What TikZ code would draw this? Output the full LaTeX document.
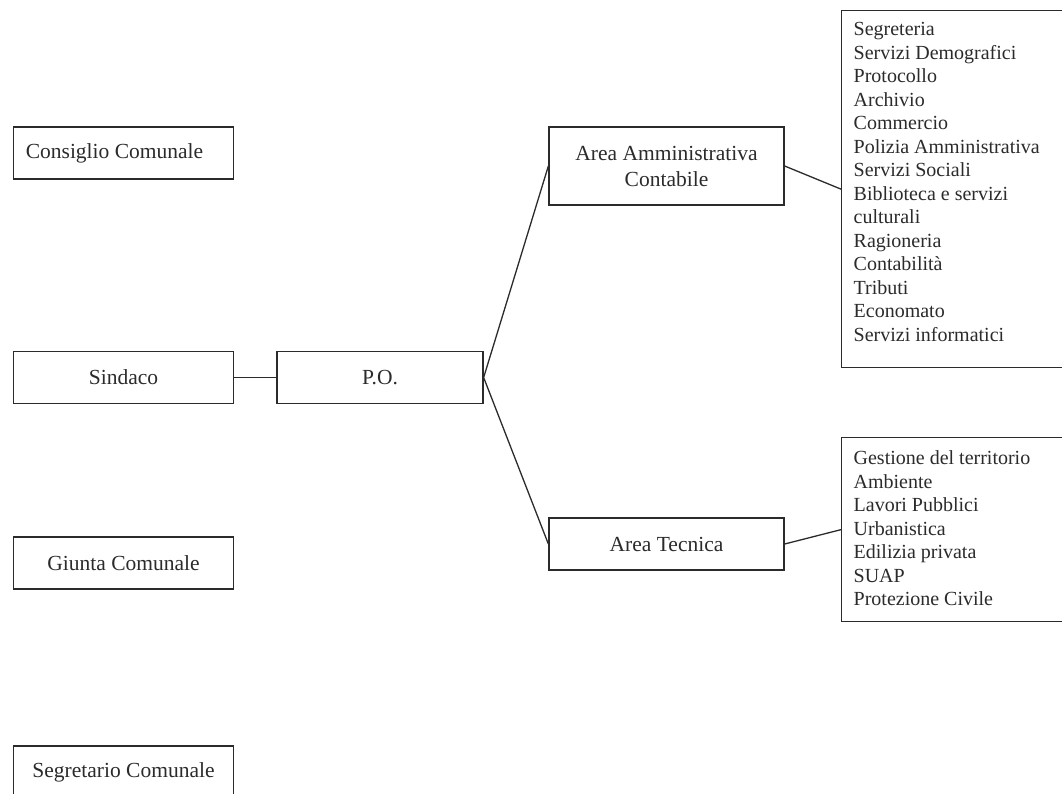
\documentclass[tikz,border=0pt]{standalone}
\usepackage{fontspec}
\setmainfont{Liberation Serif}
\definecolor{ink}{HTML}{2B2B2B}
\begin{document}
\begin{tikzpicture}[x=1pt,y=-1pt,
  box/.style={draw=ink, line width=1.3pt, text=ink, inner sep=0pt, minimum height=52pt,
    font=\fontsize{21.5pt}{26pt}\selectfont, align=center},
  listbox/.style={draw=ink, line width=1.3pt, text=ink, inner sep=0pt, anchor=north west},
  conn/.style={draw=ink, line width=1.3pt}]
\useasboundingbox (0,0) rectangle (1062,794);
\fill[white] (0,0) rectangle (1062,794);
% left column
\node[box, minimum width=220pt] (cc) at (123.5,153) {Consiglio Comunale\hspace*{18pt}};
\node[box, minimum width=220pt] (sind) at (123.5,377.5) {Sindaco};
\node[box, minimum width=220pt] (giunta) at (123.5,563) {Giunta Comunale};
\node[box, minimum width=220pt] (segr) at (123.5,772) {Segretario Comunale};
% middle
\node[box, minimum width=206pt] (po) at (380,377.5) {P.O.};
\node[box, minimum width=235pt, minimum height=78pt] (aam) at (666.5,166) {Area Amministrativa\\Contabile};
\node[box, minimum width=235pt] (atec) at (666.5,544) {Area Tecnica};
% lists
\node[listbox] (l1) at (841,10) {\begin{minipage}[c][357pt][t]{240pt}\fontsize{20pt}{23.5pt}\selectfont\leftskip=12pt
\rule{0pt}{25pt}Segreteria\\
Servizi Demografici\\
Protocollo\\
Archivio\\
Commercio\\
Polizia Amministrativa\\
Servizi Sociali\\
Biblioteca e servizi\\
culturali\\
Ragioneria\\
Contabilità\\
Tributi\\
Economato\\
Servizi informatici\end{minipage}};
\node[listbox] (l2) at (841,437) {\begin{minipage}[c][184pt][t]{240pt}\fontsize{20pt}{23.5pt}\selectfont\leftskip=12pt
\rule{0pt}{27pt}Gestione del territorio\\
Ambiente\\
Lavori Pubblici\\
Urbanistica\\
Edilizia privata\\
SUAP\\
Protezione Civile\end{minipage}};
% connectors
\draw[conn] (sind.east) -- (po.west);
\draw[conn] (po.east) -- (aam.west);
\draw[conn] (po.east) -- (atec.west);
\draw[conn] (aam.east) -- (l1.west);
\draw[conn] (atec.east) -- (l2.west);
\end{tikzpicture}
\end{document}
